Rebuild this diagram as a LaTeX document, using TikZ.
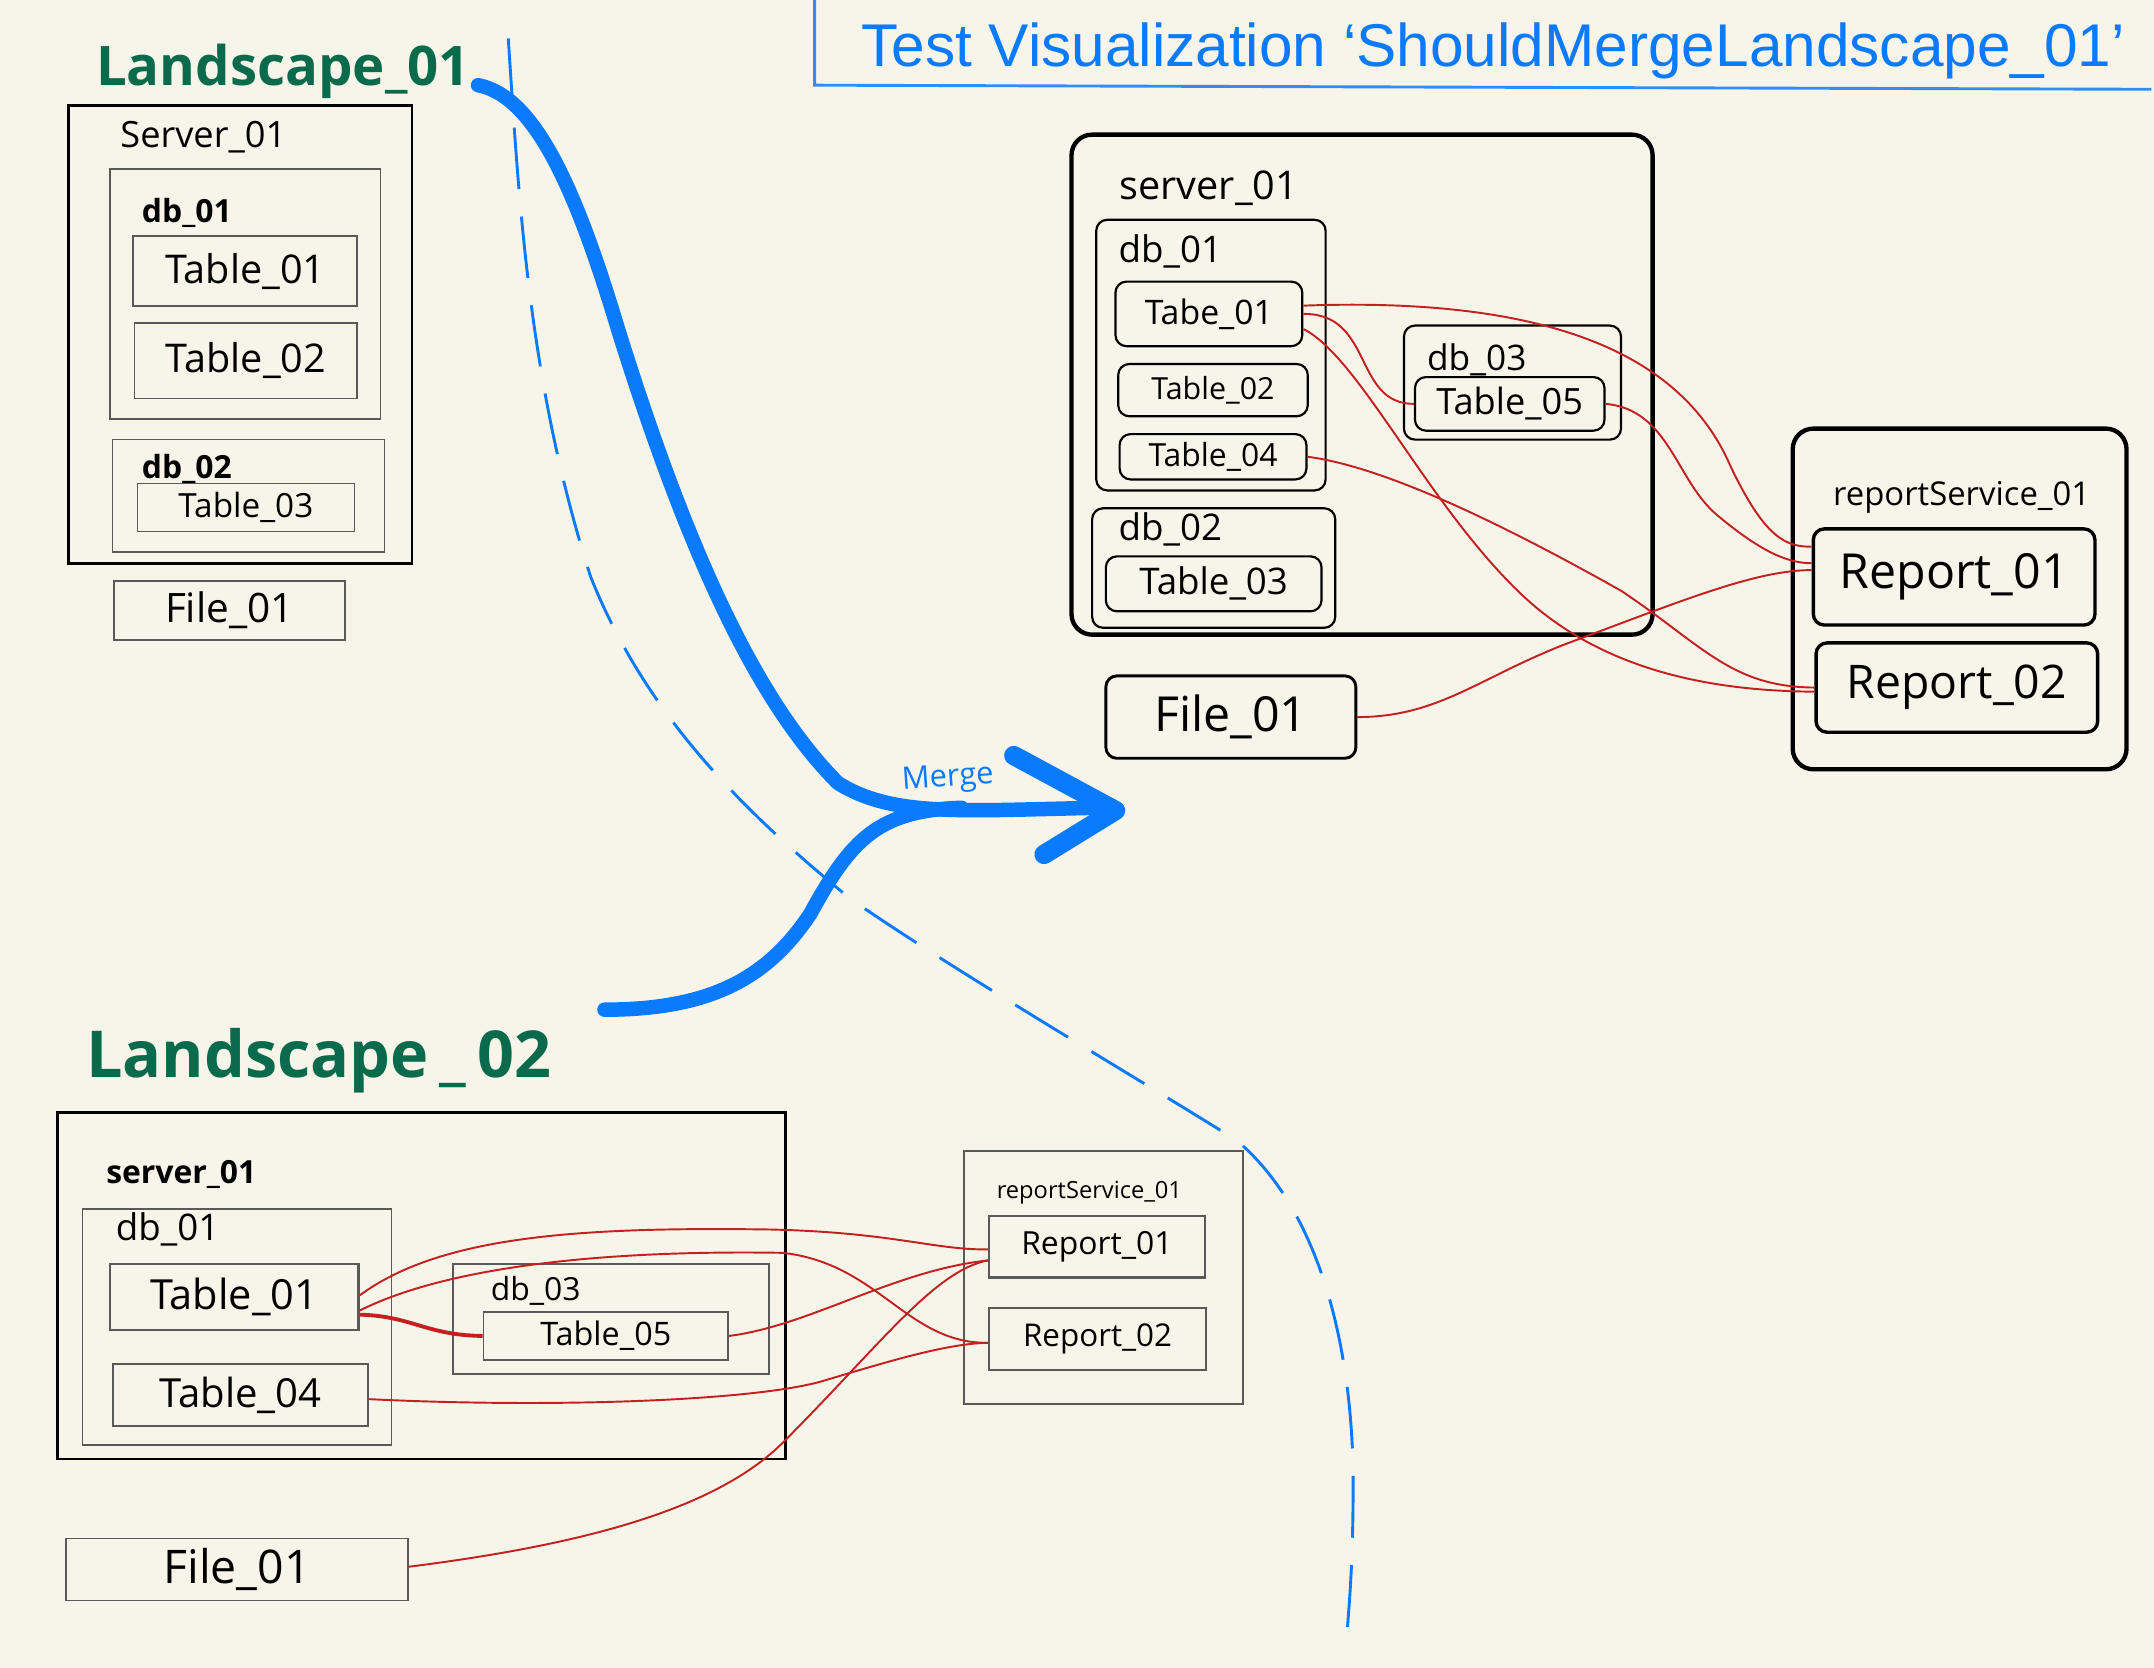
\documentclass[tikz,border=0pt]{standalone}
\usepackage{fontspec}
\setmainfont{Open Sans}
\newfontfamily\titlefont{Liberation Sans}
\definecolor{paper}{HTML}{F7F5EA}
\definecolor{inkblue}{HTML}{0A7AFF}
\definecolor{inkgreen}{HTML}{0A6B4C}
\definecolor{inkred}{HTML}{C42020}
\newcommand\hwsz[1]{\fontsize{#1}{#1}\selectfont}
\begin{document}
\begin{tikzpicture}[x=0.1mm, y=-0.1mm,
  box/.style={draw=black!65, line width=0.35pt, inner sep=0pt},
  srv/.style={draw=black, line width=0.55pt, inner sep=0pt},
  mbox/.style={draw=black, line width=0.55pt, rounded corners=0.8mm, inner sep=0pt},
  msrv/.style={draw=black, line width=0.9pt, rounded corners=1.5mm, inner sep=0pt},
  txt/.style={inner sep=0pt, font=\hwsz{#1}},
  land/.style={inner sep=0pt, text=inkgreen, font=\bfseries\hwsz{#1}},
  link/.style={draw=inkred, line width=0.4pt},
  merge/.style={draw=inkblue, line width=3pt, line cap=round, line join=round}]
\useasboundingbox (0,0) rectangle (1568,1214);
\fill[paper] (0,0) rectangle (1568,1214);

\node[text=inkblue, inner sep=0pt, font=\titlefont\hwsz{12.5}] (title) at (1087,37) {Test Visualization ‘ShouldMergeLandscape\_01’};
\draw[inkblue!85, line width=0.6pt] (593,0) -- (593,62) -- (1566,65);

\draw[inkblue, line width=0.6pt, dash pattern=on 4.5mm off 2mm]
  (370,28) .. controls (378,150) and (385,280) .. (430,420)
  .. controls (470,520) and (540,590) .. (620,655)
  .. controls (700,710) and (820,780) .. (900,830)
  .. controls (960,880) and (985,980) .. (985,1080)
  .. controls (985,1140) and (982,1170) .. (980,1195);

\node[land=11.3] (land1) at (206,52) {Landscape\_01};
\node[srv, minimum width=25mm, minimum height=33.3mm] (aSrv) at (175,243.5) {};
\node[txt=7.5] (aSrvL) at (148,100) {Server\_01};
\node[box, minimum width=19.7mm, minimum height=18.2mm] (aDb1) at (178.5,214) {};
\node[txt=6.6, font=\bfseries\hwsz{6.6}] (aDb1L) at (136,155) {db\_01};
\node[box, minimum width=16.3mm, minimum height=5.1mm, txt=8.2] (aT1) at (178.5,197.5) {Table\_01};
\node[box, minimum width=16.2mm, minimum height=5.5mm, txt=8.2] (aT2) at (179,262.5) {Table\_02};
\node[box, minimum width=19.8mm, minimum height=8.2mm] (aDb2) at (181,361) {};
\node[txt=6.6, font=\bfseries\hwsz{6.6}] (aDb2L) at (136,341) {db\_02};
\node[box, minimum width=15.8mm, minimum height=3.5mm, txt=6.9] (aT3) at (179,369.5) {Table\_03};
\node[box, minimum width=16.8mm, minimum height=4.3mm, txt=8.4] (aF1) at (167,444.5) {File\_01};

\node[msrv, minimum width=42.3mm, minimum height=36.4mm] (mSrv) at (991.5,280) {};
\node[txt=8.2] (mSrvL) at (880,137) {server\_01};
\node[mbox, line width=0.45pt, minimum width=16.7mm, minimum height=19.7mm] (mDb1) at (881.5,258.5) {};
\node[txt=7.6] (mDb1L) at (852,183) {db\_01};
\node[mbox, line width=0.45pt, minimum width=13.6mm, minimum height=4.7mm, txt=7] (mT1) at (880,228.5) {Tabe\_01};
\node[mbox, line width=0.45pt, minimum width=13.8mm, minimum height=3.8mm, txt=6.3] (mT2) at (883,284) {Table\_02};
\node[mbox, line width=0.45pt, minimum width=13.6mm, minimum height=3.3mm, txt=6.6] (mT4) at (883,332.5) {Table\_04};
\node[mbox, line width=0.45pt, minimum width=17.7mm, minimum height=8.7mm] (mDb2) at (883.5,413.5) {};
\node[txt=7.6] (mDb2L) at (852,385) {db\_02};
\node[mbox, line width=0.45pt, minimum width=15.7mm, minimum height=4.0mm, txt=7.6] (mT3) at (883.5,425) {Table\_03};
\node[mbox, line width=0.45pt, minimum width=15.8mm, minimum height=8.3mm] (mDb3) at (1101,278.5) {};
\node[txt=7.3] (mDb3L) at (1075,262) {db\_03};
\node[mbox, line width=0.45pt, minimum width=13.8mm, minimum height=3.9mm, txt=7.5] (mT5) at (1099,294) {Table\_05};
\node[mbox, line width=0.6pt, minimum width=18.2mm, minimum height=6mm, txt=10] (mF1) at (896,522) {File\_01};
\node[msrv, minimum width=24.3mm, minimum height=24.8mm] (mRs) at (1426.5,436) {};
\node[txt=6.8] (mRsL) at (1428,362) {reportService\_01};
\node[mbox, line width=0.7pt, minimum width=20.5mm, minimum height=7mm, txt=10] (mR1) at (1422.5,420) {Report\_01};
\node[mbox, line width=0.7pt, minimum width=20.5mm, minimum height=6.5mm, txt=9.6] (mR2) at (1424.5,500.5) {Report\_02};

\draw[link] ([yshift=0.6mm]mT1.east) .. controls (1150,215) and (1230,270) .. (1260,340)
  .. controls (1285,392) and (1300,398) .. ([yshift=2.2mm]mR1.west);
\draw[link] (mT1.east) .. controls (1000,228) and (985,294) .. (mT5.west);
\draw[link] ([yshift=-1.1mm]mT1.east) .. controls (990,260) and (1040,370) .. (1110,435)
  .. controls (1170,490) and (1250,503) .. ([yshift=-0.3mm]mR2.west);
\draw[link] (mT4.east) .. controls (1010,340) and (1100,385) .. (1180,430)
  .. controls (1240,470) and (1260,500) .. (mR2.west);
\draw[link] (mT5.east) .. controls (1215,298) and (1220,350) .. (1250,375)
  .. controls (1280,400) and (1300,410) .. ([yshift=1mm]mR1.west);
\draw[link] (mF1.east) .. controls (1050,522) and (1080,490) .. (1150,465)
  .. controls (1230,435) and (1280,415) .. ([yshift=0.5mm]mR1.west);

\node[land=13.4] (land2) at (232,772) {Landscape\,\_\,02};
\node[srv, minimum width=53mm, minimum height=25.2mm] (bSrv) at (307,936) {};
\node[txt=6.6, font=\bfseries\hwsz{6.6}] (bSrvL) at (132,855) {server\_01};
\node[box, minimum width=22.5mm, minimum height=17.2mm] (bDb1) at (172.5,966) {};
\node[txt=7.6] (bDb1L) at (122,895) {db\_01};
\node[box, line width=0.45pt, minimum width=18.1mm, minimum height=4.8mm, txt=8.6] (bT1) at (170.5,944) {Table\_01};
\node[box, line width=0.45pt, minimum width=18.6mm, minimum height=4.5mm, txt=8.3] (bT4) at (175,1015.5) {Table\_04};
\node[box, minimum width=23mm, minimum height=8mm] (bDb3) at (445,960) {};
\node[txt=6.6] (bDb3L) at (390,940) {db\_03};
\node[box, minimum width=17.8mm, minimum height=3.5mm, txt=6.7] (bT5) at (441,972.5) {Table\_05};
\node[box, line width=0.45pt, minimum width=20.3mm, minimum height=18.4mm] (bRs) at (803.5,930) {};
\node[txt=4.9] (bRsL) at (793,868) {reportService\_01};
\node[box, line width=0.45pt, minimum width=15.7mm, minimum height=4.5mm, txt=6.6] (bR1) at (798.5,907.5) {Report\_01};
\node[box, line width=0.45pt, minimum width=15.8mm, minimum height=4.5mm, txt=6.5] (bR2) at (799,974.5) {Report\_02};
\node[box, minimum width=24.9mm, minimum height=4.5mm, txt=9.6] (bF1) at (172.5,1142.5) {File\_01};

\draw[link] ([yshift=0.1mm]bT1.east) .. controls (320,900) and (420,893) .. (560,895)
  .. controls (650,897) and (680,910) .. ([yshift=-0.2mm]bR1.west);
\draw[link] ([yshift=-1mm]bT1.east) .. controls (330,920) and (450,910) .. (570,912)
  .. controls (640,920) and (660,978) .. ([yshift=-0.3mm]bR2.west);
\draw[link, line width=0.8pt] ([yshift=-1.3mm]bT1.east) .. controls (300,958) and (310,972) .. (bT5.west);
\draw[link] (bT5.east) .. controls (590,965) and (650,925) .. ([yshift=-1mm]bR1.west);
\draw[link] ([yshift=-0.3mm]bT4.east) .. controls (400,1025) and (550,1020) .. (600,1005)
  .. controls (650,990) and (690,978) .. ([yshift=-0.3mm]bR2.west);
\draw[link] ([yshift=0.2mm]bF1.east) .. controls (420,1125) and (520,1100) .. (570,1050)
  .. controls (640,980) and (680,925) .. ([yshift=-1mm]bR1.west);

\coordinate (mergeA) at (348,62);
\coordinate (mergeB) at (440,735);
\coordinate (mergeTip) at (812,590);
\draw[merge] (mergeA) .. controls (390,70) and (420,140) .. (450,240)
  .. controls (500,400) and (550,510) .. (610,570)
  .. controls (650,595) and (700,590) .. (800,588);
\draw[merge] (mergeB) .. controls (520,735) and (560,710) .. (590,665)
  .. controls (620,610) and (640,590) .. (700,588);
\draw[merge, line width=4pt] (738,550) -- (mergeTip) -- (760,622);
\node[text=inkblue, inner sep=0pt, font=\hwsz{6.4}, rotate=4] (mergeL) at (690,567) {Merge};
\end{tikzpicture}
\end{document}
